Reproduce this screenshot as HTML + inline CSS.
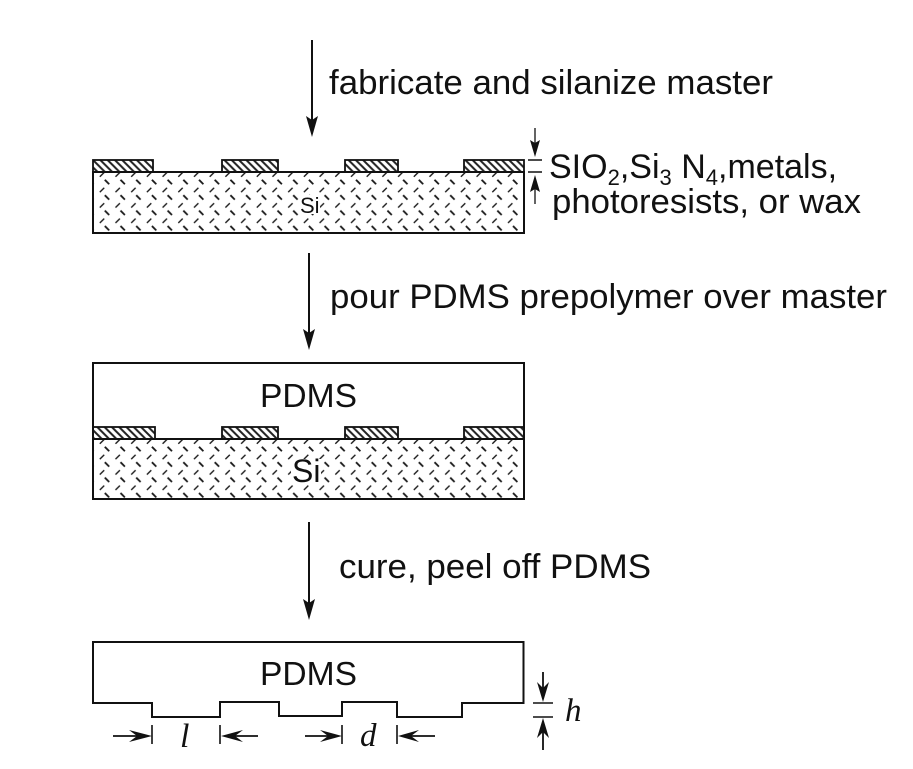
<!DOCTYPE html>
<html>
<head>
<meta charset="utf-8">
<style>
html,body{margin:0;padding:0;background:#fff;width:913px;height:769px;overflow:hidden}
svg{display:block}
text{font-family:"Liberation Sans",sans-serif;fill:#111}
.m{font-family:"Liberation Serif",serif;font-style:italic}
</style>
</head>
<body>
<svg width="913" height="769" viewBox="0 0 913 769" xmlns="http://www.w3.org/2000/svg">
<defs>
<pattern id="hatch" width="7.300" height="7.300" patternUnits="userSpaceOnUse" patternTransform="translate(93 160)">
<path d="M-1 -1L8.300 8.300M-8.300 -1L1 8.300M6.300 -1L15.600 8.300" stroke="#222" stroke-width="2" fill="none"/>
</pattern>
<pattern id="si1" width="15.700" height="15.400" patternUnits="userSpaceOnUse" patternTransform="translate(99 178)">
<path d="M5.800 1.800L10.200 6.200" stroke="#1a1a1a" stroke-width="1.800" fill="none"/>
<path d="M5.200 9.800L0.800 14.200" stroke="#1a1a1a" stroke-width="1.400" fill="none"/>
</pattern>
<pattern id="si2" width="15.700" height="15.400" patternUnits="userSpaceOnUse" patternTransform="translate(99 445)">
<path d="M5.800 1.800L10.200 6.200" stroke="#1a1a1a" stroke-width="1.800" fill="none"/>
<path d="M5.200 9.800L0.800 14.200" stroke="#1a1a1a" stroke-width="1.400" fill="none"/>
</pattern>
</defs>

<!-- arrow 1 -->
<path d="M312 40V120" stroke="#111" stroke-width="2"/>
<path d="M306 116L312 120L318 116L312 137Z" fill="#111"/>
<text x="329" y="94" font-size="34.500" textLength="444" lengthAdjust="spacingAndGlyphs">fabricate and silanize master</text>

<!-- master -->
<rect x="93" y="172" width="431" height="61" fill="url(#si1)"/>
<path d="M93 233V172H524V233M92 233H525" fill="none" stroke="#111" stroke-width="2"/>
<g fill="url(#hatch)" stroke="#111" stroke-width="1.800">
<rect x="93" y="160" width="60" height="12"/>
<rect x="222" y="160" width="56" height="12"/>
<rect x="345" y="160" width="53" height="12"/>
<rect x="464" y="160" width="60" height="12"/>
</g>
<rect x="299" y="195" width="21" height="19" fill="#fff"/>
<text x="300" y="213" font-size="22">Si</text>

<!-- thickness -->
<path d="M528 160H542M528 172H542" stroke="#111" stroke-width="1.500"/>
<path d="M535 128V145M535 189V204" stroke="#111" stroke-width="1.300"/>
<path d="M530 140L535 143L540 140L535 157Z" fill="#111"/>
<path d="M530 192L535 189L540 192L535 175Z" fill="#111"/>
<text x="549" y="178" font-size="34">SIO<tspan font-size="22" dy="7">2</tspan><tspan dy="-7">,Si</tspan><tspan font-size="22" dy="7">3</tspan><tspan dy="-7"> N</tspan><tspan font-size="22" dy="7">4</tspan><tspan dy="-7">,metals,</tspan></text>
<text x="552" y="213" font-size="34.500" textLength="309" lengthAdjust="spacingAndGlyphs">photoresists, or wax</text>

<!-- arrow 2 -->
<path d="M309 253V333" stroke="#111" stroke-width="2"/>
<path d="M303 329L309 333L315 329L309 350Z" fill="#111"/>
<text x="330" y="308" font-size="34.500" textLength="557" lengthAdjust="spacingAndGlyphs">pour PDMS prepolymer over master</text>

<!-- stage 2 -->
<rect x="93" y="439" width="431" height="60" fill="url(#si2)"/>
<path d="M93 439V363H524V439M93 439V499H524V439M92 439H525" fill="none" stroke="#111" stroke-width="2"/>
<g fill="url(#hatch)" stroke="#111" stroke-width="1.800">
<rect x="93" y="427" width="62" height="12"/>
<rect x="222" y="427" width="56" height="12"/>
<rect x="345" y="427" width="53" height="12"/>
<rect x="464" y="427" width="60" height="12"/>
</g>
<text x="260" y="407" font-size="33.500" textLength="97" lengthAdjust="spacingAndGlyphs">PDMS</text>
<rect x="291" y="459" width="30" height="25" fill="#fff"/>
<text x="292" y="482" font-size="32">Si</text>

<!-- arrow 3 -->
<path d="M309 522V603" stroke="#111" stroke-width="2"/>
<path d="M303 599L309 603L315 599L309 620Z" fill="#111"/>
<text x="339" y="578" font-size="34.500" textLength="312" lengthAdjust="spacingAndGlyphs">cure, peel off PDMS</text>

<!-- stage 3 -->
<path d="M93 642H523.500V703H462V717H397V702H342V716H279V702H220V717H152V703H93Z" fill="#fff" stroke="#111" stroke-width="2"/>
<text x="260" y="685" font-size="33.500" textLength="97" lengthAdjust="spacingAndGlyphs">PDMS</text>

<!-- l, d -->
<path d="M113 736H140M233 736H258M305 736H330M408 736H435" stroke="#111" stroke-width="1.800"/>
<path d="M152 725V744M220 725V744M342 725V744M397 725V744" stroke="#111" stroke-width="1.600"/>
<path d="M129 730L137 736L129 742L152 736Z" fill="#111"/>
<path d="M243 730L235 736L243 742L221 736Z" fill="#111"/>
<path d="M320 730L328 736L320 742L342 736Z" fill="#111"/>
<path d="M419 730L411 736L419 742L398 736Z" fill="#111"/>
<text class="m" x="180" y="747" font-size="34">l</text>
<text class="m" x="360" y="746" font-size="33">d</text>

<!-- h -->
<path d="M533 703H553M533 717H553" stroke="#111" stroke-width="1.500"/>
<path d="M543 672V690M543 730V750" stroke="#111" stroke-width="1.800"/>
<path d="M537 682L543 688L549 682L543 702Z" fill="#111"/>
<path d="M537 738L543 732L549 738L543 718Z" fill="#111"/>
<text class="m" x="565" y="721" font-size="33">h</text>
</svg>
</body>
</html>
